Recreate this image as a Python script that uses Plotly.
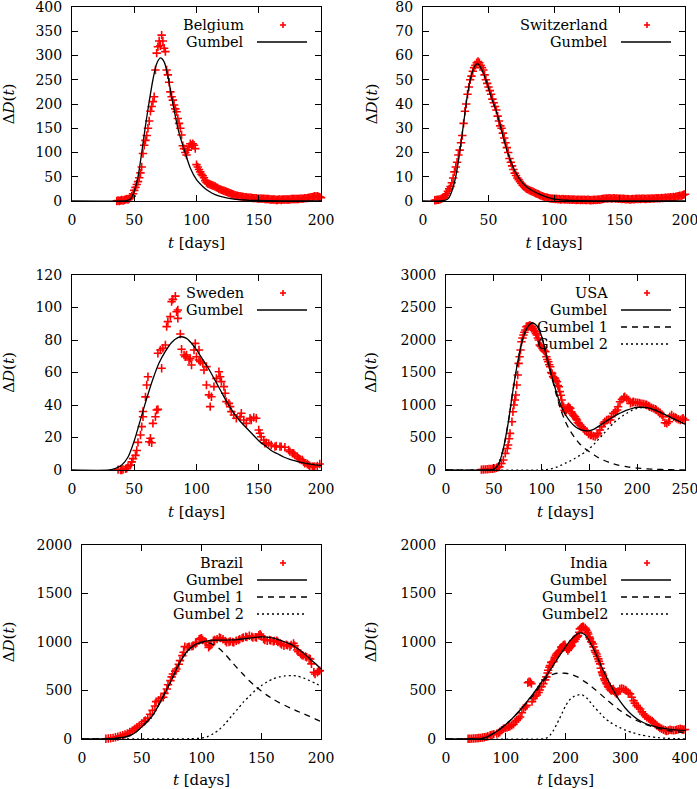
import plotly.graph_objects as go

W, H = 697, 789
FONT = "DejaVu Serif"

# ---------------- Belgium ----------------
bel_days = list(range(36, 201))
bel_deaths = [
    0, 1, 0, 1, 2, 1, 2, 3, 4,
    3, 5, 7, 10, 15, 22, 28, 34,
    40, 48, 58, 70, 98, 115, 125, 135,
    150, 165, 185, 195, 205,
    215, 270, 305, 318, 330, 320, 342,
    330, 315, 308, 270, 260, 245, 225, 215,
    208, 198, 190, 184, 170, 160, 150, 136, 114, 108, 100, 95,
    105, 112, 118, 115, 118, 115, 108,
    75, 70, 65, 60, 55, 52, 48, 42, 38, 36, 35,
    34, 33, 32, 31, 30, 28, 27, 25, 24, 23,
    22, 21, 20, 19, 18, 17, 16, 15, 14, 13,
    12, 11, 11, 10, 10, 9, 9, 8, 8, 8,
    7, 7, 7, 7, 6, 6, 6, 6, 5, 5,
    5, 5, 5, 5, 4, 4, 4, 4, 3, 3,
    3, 3, 3, 2, 2, 3, 3, 2, 3, 3,
    3, 3, 3, 3, 3, 4, 4, 4, 4, 4,
    4, 4, 5, 5, 5, 5, 6, 6, 6, 7,
    7, 8, 8, 9, 10, 9, 10, 9, 8, 7,
]
bel_fit_days = [0, 40, 44, 47, 50, 53, 56, 59, 62, 65, 68, 71, 74, 77, 80, 83, 86, 90,
                95, 100, 105, 110, 115, 120, 130, 140, 150, 160, 170, 200]
bel_fit = [0, 0, 1, 4, 20, 50, 100, 155, 205, 250, 283, 295, 287, 258, 215, 175, 140, 107,
           68, 44, 30, 20, 13, 9, 4, 2, 1, 0.5, 0.2, 0]

# ---------------- Switzerland ----------------
swi_days = list(range(9, 201))
swi_deaths = [
    0.3, 0.4, 0.5, 0.5, 0.7, 0.9, 1.2, 1.6, 2.2, 3.0, 4.0,
    5, 6, 7.5, 9.5, 12, 14, 16, 19, 21, 24,
    27, 32, 37, 40, 44, 47, 50, 51.5, 53.5, 55,
    56, 57, 57.5, 57, 56, 55, 54, 52,
    50, 48.5, 47, 45.5, 44, 42, 40.5, 39, 37.5, 35,
    33, 31, 30, 28, 26, 24, 22, 20, 17.5, 16,
    14.5, 13, 11.5, 10.5, 9.5, 8.8, 8, 7.2, 6.5, 6,
    5.5, 5, 4.8, 4.5, 4.2, 4, 3.8, 3.5, 3.2, 3,
    2.8, 2.5, 2.2, 2, 1.8, 1.6, 1.5, 1.4, 1.2, 1.1, 1.0, 1.0,
    0.9, 0.8, 0.9, 0.7, 0.8, 0.6, 0.7, 0.8, 0.6, 0.7,
    0.6, 0.7, 0.5, 0.6, 0.5, 0.6, 0.5, 0.4, 0.5, 0.5,
    0.4, 0.5, 0.4, 0.5, 0.4, 0.4, 0.5, 0.4, 0.3, 0.4,
    0.4, 0.5, 0.4, 0.5, 0.6, 0.5, 0.7, 0.8, 0.9, 1.0,
    1.1, 1.0, 1.2, 1.1, 1.0, 1.1, 1.2, 1.0, 1.1, 0.9,
    1.0, 0.9, 0.8, 0.9, 0.8, 0.7, 0.8, 0.7, 0.6, 0.7,
    0.8, 0.7, 0.8, 0.9, 0.8, 0.9, 0.8, 0.9, 1.0, 0.9,
    0.8, 0.9, 1.0, 0.9, 1.0, 1.1, 1.0, 1.1, 1.2, 1.1,
    1.2, 1.1, 1.3, 1.2, 1.3, 1.4, 1.3, 1.5, 1.4, 1.6,
    1.5, 1.7, 1.6, 1.8, 1.9, 2.0, 2.2, 2.1, 2.4, 2.6,
    2.8,
]
swi_fit_days = [0, 12, 15, 18, 20, 22, 25, 28, 31, 34, 37, 40, 42, 45, 48, 52, 56, 60, 64,
                68, 72, 76, 80, 85, 90, 95, 100, 110, 120, 140, 200]
swi_fit = [0, 0, 0.1, 0.5, 1.5, 4, 10, 20, 32, 44, 52, 56, 56.5, 54, 50, 43, 37, 29, 21,
           15, 10.5, 7.5, 5.5, 3.8, 2.5, 1.5, 0.8, 0.3, 0.1, 0, 0]

# ---------------- Sweden ----------------
swe_days = [37, 39, 40, 41, 43, 44, 45, 47, 48, 49, 51, 52, 53, 55, 56, 57, 57, 59, 60, 61,
            62, 63, 64, 65, 67, 68, 69, 69, 71, 72, 73, 75, 76, 77, 79, 80, 81, 83, 84, 85,
            85, 87, 88, 90, 91, 92, 94, 95, 96, 98, 99, 100, 102, 102, 103, 105, 106, 108,
            108, 110, 111, 112, 114, 116, 118, 119, 120, 122, 123, 124, 126, 127, 128, 130,
            132, 135, 136, 138, 140, 143, 144, 146, 148, 150, 151, 152, 154, 155, 156, 158,
            160, 163, 164, 167, 168, 171, 174, 175, 177, 178, 179, 181, 182, 183, 185, 186,
            187, 189, 190, 191, 193, 194, 195, 197, 199]
swe_deaths = [0.2, 0, 0, 0.4, 0.8, 1, 2, 3, 5, 7, 9, 12, 17, 21.5, 26.7, 32.8, 36, 45, 52.3,
              57.4, 17.4, 19.5, 16.8, 28.7, 32.8, 36.9, 37.3, 71.8, 73.8, 62.6, 74.9, 76.9,
              88.2, 91.3, 94.4, 103.6, 105, 107, 97.4, 93.3, 98.5, 83.7, 74.3, 70.8, 69.7,
              70.8, 67.7, 68.7, 64.6, 73.8, 77.9, 69.7, 73.8, 67.7, 66.7, 65.6, 61.5, 63.6,
              52.3, 46.2, 39, 45.1, 51.3, 56.4, 60.5, 57.4, 54.4, 51.3, 47.2, 42.1, 41, 39,
              35.9, 33.8, 31.8, 32.8, 34.9, 30.8, 28.7, 31.8, 30.8, 32.4, 31.8, 24.6, 22.6,
              20.5, 18.5, 16.4, 16.8, 16.4, 15.4, 14.4, 14.8, 14.4, 14.4, 14, 12.3, 11.3,
              10.3, 10.3, 9.2, 8.2, 7.2, 6.6, 6.2, 5.1, 4.1, 3.7, 3.1, 2.5, 2, 2, 2, 2.5, 3.7]
swe_fit_days = [0, 30, 35, 40, 45, 50, 55, 60, 65, 70, 75, 80, 85, 88, 92, 96, 100, 105, 110,
                115, 120, 125, 130, 135, 140, 145, 150, 155, 160, 165, 170, 175, 180, 185,
                190, 195, 200]
swe_fit = [0, 0, 1, 3, 8, 18, 31, 44, 56, 66, 73, 78.5, 81.5, 82, 81, 78, 74, 68, 62,
           55, 48, 41, 35, 30, 26, 22, 18, 15, 12, 10, 8, 6.5, 5.5, 4.5, 3.8, 3.2, 2.8]

# ---------------- USA ----------------
usa_days = [37, 39, 41, 43, 45, 47, 49, 51, 53, 55, 56, 58, 60, 62, 64, 65, 66, 67, 69, 70,
            71, 72, 73, 74, 75, 76, 77, 78, 79, 80, 81, 82, 83, 84, 85, 86, 87, 88, 89, 90,
            91, 92, 93, 94, 95, 96, 97, 98, 99, 100, 101, 102, 103, 104, 105, 106, 107, 108,
            109, 110, 111, 112, 113, 114, 115, 116, 117, 118, 119, 120, 121, 122, 123, 124,
            125, 126, 127, 128, 129, 130, 131, 132, 133, 134, 135, 136, 137, 138, 139, 140,
            142, 144, 145, 147, 149, 151, 152, 154, 156, 158, 159, 161, 163, 165, 166, 168,
            170, 172, 173, 175, 177, 179, 180, 182, 184, 186, 187, 189, 191, 193, 195, 196,
            198, 200, 202, 203, 205, 207, 209, 210, 212, 213, 215, 217, 219, 220, 222, 224,
            226, 227, 229, 231, 233, 234, 236, 238, 240, 241, 243, 245, 247, 248, 250]
usa_deaths = [5, 8, 10, 12, 15, 18, 20, 25, 35, 45, 51, 100, 154, 256, 330, 384, 480, 564,
              743, 897, 1000, 1077, 1154, 1307, 1461, 1640, 1743, 1846, 1974, 2030, 2076,
              2120, 2153, 2204, 2210, 2214, 2220, 2224, 2210, 2204, 2179, 2150, 2128, 2100,
              2076, 2030, 2000, 1922, 1910, 1897, 1870, 1846, 1830, 1820, 1743, 1700, 1666,
              1620, 1589, 1500, 1487, 1436, 1420, 1410, 1380, 1358, 1300, 1281, 1205, 1150,
              1077, 1000, 974, 920, 897, 923, 950, 974, 960, 948, 897, 870, 846, 830, 820,
              790, 769, 730, 718, 692, 666, 641, 615, 590, 554, 538, 538, 523, 513, 538, 564,
              615, 666, 718, 743, 769, 779, 769, 820, 871, 897, 923, 974, 1051, 1087, 1118,
              1128, 1102, 1077, 1025, 1040, 1051, 1040, 1036, 1030, 1025, 1020, 1015, 1005,
              1000, 985, 974, 960, 948, 935, 923, 900, 882, 850, 820, 728, 718, 743, 820,
              846, 820, 810, 795, 780, 769, 785, 795, 769]
usa_fit_days = [0, 45, 50, 55, 60, 65, 70, 75, 80, 85, 90, 95, 100, 105, 110, 115, 120, 125,
                130, 135, 140, 145, 150, 155, 160, 165, 170, 175, 180, 185, 190, 195, 200,
                205, 210, 215, 220, 225, 230, 235, 240, 245, 250]
usa_fit = [0, 0, 10, 90, 330, 720, 1220, 1660, 2000, 2190, 2262, 2220, 2060, 1760, 1480,
           1220, 1000, 850, 745, 670, 625, 607, 605, 630, 675, 725, 775, 820, 860, 895, 925,
           948, 962, 965, 960, 940, 912, 880, 845, 810, 775, 740, 705]
usa_g1_days = [0, 45, 50, 55, 60, 65, 70, 75, 80, 85, 90, 95, 100, 105, 110, 115, 120, 125,
               130, 135, 140, 145, 150, 155, 160, 165, 170, 175, 180, 190, 200, 210, 220,
               230, 240, 250]
usa_g1 = [0, 0, 10, 90, 330, 720, 1220, 1660, 2000, 2190, 2262, 2220, 2060, 1755, 1465,
          1180, 930, 740, 600, 490, 400, 335, 280, 230, 185, 150, 120, 95, 75, 48, 30, 18,
          11, 6, 3, 2]
usa_g2_days = [0, 100, 105, 110, 115, 120, 125, 130, 135, 140, 145, 150, 155, 160, 165, 170,
               175, 180, 185, 190, 195, 200, 205, 210, 215, 220, 225, 230, 235, 240, 245, 250]
usa_g2 = [0, 0, 5, 18, 40, 70, 105, 140, 180, 225, 270, 330, 400, 480, 560, 640, 718, 780,
          835, 880, 920, 948, 960, 960, 945, 920, 885, 850, 815, 775, 740, 705]

# ---------------- Brazil ----------------
bra_days = [20, 22, 24, 26, 28, 30, 32, 34, 36, 38, 40, 42, 44, 46, 48, 50, 52, 53, 55, 57,
            59, 61, 62, 64, 66, 68, 69, 71, 72, 74, 75, 76, 78, 79, 81, 82, 84, 85, 86, 88,
            89, 90, 92, 93, 95, 96, 98, 99, 100, 101, 103, 104, 106, 107, 108, 110, 111, 113,
            115, 116, 118, 120, 121, 123, 124, 126, 127, 129, 131, 132, 134, 135, 137, 138,
            140, 142, 143, 145, 146, 148, 149, 150, 152, 153, 155, 157, 158, 160, 161, 163,
            164, 166, 167, 169, 171, 172, 174, 175, 177, 178, 180, 181, 183, 184, 185, 187,
            188, 190, 191, 192, 194, 195, 197, 198, 199]
bra_deaths = [3, 5, 8, 12, 18, 25, 32, 40, 48, 58, 72, 86, 104, 122, 140, 160, 180, 192, 215,
              255, 295, 340, 385, 400, 420, 430, 470, 515, 560, 602, 640, 670, 700, 722, 770,
              808, 860, 894, 952, 945, 950, 952, 955, 962, 980, 996, 1030, 1035, 1040, 1020,
              1000, 996, 945, 962, 972, 1013, 1020, 1030, 1047, 1040, 1030, 1010, 996, 1000,
              1006, 1000, 996, 1013, 1020, 1030, 1040, 1047, 1054, 1050, 1064, 1055, 1047,
              1050, 1047, 1070, 1081, 1064, 1030, 1020, 1013, 1020, 1015, 1006, 1010, 1013,
              1000, 986, 975, 962, 972, 965, 952, 970, 986, 962, 918, 900, 877, 865, 860, 850,
              843, 830, 825, 774, 688, 670, 688, 700, 705]
bra_fit_days = [0, 15, 20, 25, 30, 35, 40, 45, 50, 55, 60, 65, 70, 75, 80, 85, 90, 95, 100,
                105, 110, 115, 120, 125, 130, 135, 140, 145, 150, 155, 160, 165, 170, 175,
                180, 185, 190, 195, 200]
bra_fit = [0, 0, 1, 4, 10, 18, 35, 70, 125, 185, 260, 370, 490, 610, 745, 855, 930, 975,
           1000, 1012, 1018, 1020, 1020, 1021, 1025, 1032, 1040, 1048, 1052, 1050, 1040, 1022,
           1000, 975, 935, 890, 835, 780, 720]
bra_g1_days = [0, 15, 20, 25, 30, 35, 40, 45, 50, 55, 60, 65, 70, 75, 80, 85, 90, 95, 100,
               105, 110, 115, 120, 125, 130, 135, 140, 145, 150, 155, 160, 165, 170, 175, 180,
               185, 190, 195, 200]
bra_g1 = [0, 0, 1, 4, 10, 18, 35, 70, 125, 185, 260, 370, 490, 610, 745, 855, 928, 972, 992,
          993, 972, 930, 870, 800, 730, 665, 600, 545, 495, 450, 410, 375, 345, 315, 288,
          262, 236, 208, 180]
bra_g2_days = [0, 70, 80, 90, 100, 105, 110, 115, 120, 125, 130, 135, 140, 145, 150, 155, 160,
               165, 170, 175, 180, 185, 190, 195, 200]
bra_g2 = [0, 0, 1, 3, 10, 25, 55, 100, 160, 235, 305, 380, 440, 500, 550, 590, 620, 640, 650,
          654, 648, 630, 605, 575, 545]

# ---------------- India ----------------
ind_days = [37, 40, 43, 46, 49, 52, 55, 58, 61, 64, 67, 70, 74, 77, 80, 85, 88, 90, 93, 96,
            99, 102, 105, 107, 110, 113, 116, 118, 121, 124, 127, 130, 133, 135, 137, 139, 141,
            143, 144, 146, 149, 152, 155, 157, 160, 163, 166, 168, 170, 171, 173, 174, 176,
            178, 180, 182, 184, 185, 187, 188, 190, 191, 193, 194, 196, 197, 199, 200, 202,
            204, 206, 207, 209, 210, 212, 213, 215, 217, 219, 220, 221, 223, 224, 226, 227,
            229, 230, 233, 234, 235, 237, 238, 240, 241, 243, 244, 246, 247, 249, 250, 252,
            253, 255, 256, 258, 259, 261, 262, 263, 265, 266, 268, 269, 271, 272, 274, 276,
            277, 279, 280, 282, 283, 285, 286, 288, 291, 294, 297, 300, 302, 305, 308, 311,
            314, 316, 319, 322, 325, 328, 330, 333, 336, 339, 342, 345, 347, 350, 353, 356,
            358, 361, 364, 367, 369, 372, 375, 378, 381, 384, 386, 389, 392, 395, 397, 400]
ind_deaths = [2, 3, 4, 5, 6, 8, 10, 12, 15, 18, 22, 28, 38, 45, 50, 55, 62, 72, 90, 107, 112,
              117, 125, 131, 140, 151, 175, 193, 210, 227, 270, 313, 330, 347, 580, 590, 588,
              571, 385, 419, 440, 454, 480, 505, 540, 571, 610, 640, 680, 709, 740, 758, 790,
              794, 800, 842, 860, 877, 885, 894, 905, 912, 946, 950, 963, 970, 973, 950, 929,
              912, 930, 946, 955, 963, 1000, 1015, 1006, 1030, 1049, 1060, 1066, 1100, 1135,
              1145, 1152, 1159, 1155, 1145, 1130, 1118, 1100, 1083, 1050, 1032, 1005, 998, 980,
              950, 912, 895, 877, 850, 826, 800, 774, 730, 689, 670, 653, 620, 602, 580, 568,
              545, 533, 516, 505, 499, 510, 516, 495, 482, 470, 465, 490, 516, 520, 516, 505,
              499, 480, 465, 430, 396, 370, 344, 325, 310, 280, 258, 240, 224, 210, 197, 185,
              172, 155, 138, 125, 114, 105, 96, 90, 83, 88, 96, 92, 89, 92, 96, 100, 107, 100,
              96, 98]
ind_fit_days = [0, 40, 50, 60, 70, 80, 90, 100, 110, 120, 130, 140, 150, 160, 170, 180, 190,
                200, 210, 220, 225, 230, 235, 240, 250, 260, 270, 280, 290, 300, 310, 320, 330,
                340, 350, 360, 370, 380, 390, 400]
ind_fit = [0, 0, 1, 5, 25, 60, 100, 150, 205, 270, 340, 420, 500, 590, 670, 765, 860, 950,
           1030, 1085, 1095, 1085, 1060, 1010, 890, 750, 620, 505, 400, 320, 255, 205, 170,
           145, 128, 115, 105, 97, 92, 88]
ind_g1_days = [0, 40, 50, 60, 70, 80, 90, 100, 110, 120, 130, 140, 150, 160, 170, 180, 190,
               200, 210, 220, 230, 240, 250, 260, 270, 280, 290, 300, 310, 320, 330, 340, 350,
               360, 370, 380, 390, 400]
ind_g1 = [0, 0, 1, 5, 25, 60, 100, 150, 205, 270, 340, 410, 480, 575, 640, 670, 680, 678, 665,
          640, 600, 558, 508, 455, 400, 348, 300, 258, 220, 188, 160, 137, 118, 102, 90, 80,
          72, 66]
ind_g2_days = [0, 160, 165, 170, 175, 180, 185, 190, 195, 200, 205, 210, 215, 220, 227, 235,
               240, 247, 258, 265, 275, 285, 291, 300, 313, 325, 341, 355, 370, 385, 400]
ind_g2 = [0, 0, 3, 15, 45, 90, 150, 210, 275, 340, 390, 422, 442, 453, 458, 425, 392, 338,
          265, 220, 172, 135, 118, 92, 64, 44, 25, 14, 7, 3, 1]

# ---------------- panels ----------------
# box = plot area in pixels (left, top, right, bottom); ystand = y title gap
panels = [
    dict(label="Belgium", days=bel_days, deaths=bel_deaths,
         fits=[(bel_fit_days, bel_fit, "Gumbel", "solid")],
         xrange=[0, 200], xdtick=50, yrange=[0, 400], ydtick=50,
         box=(72, 7, 321, 201), ystand=17),
    dict(label="Switzerland", days=swi_days, deaths=swi_deaths,
         fits=[(swi_fit_days, swi_fit, "Gumbel", "solid")],
         xrange=[0, 200], xdtick=50, yrange=[0, 80], ydtick=10,
         box=(423, 7, 685, 201), ystand=14),
    dict(label="Sweden", days=swe_days, deaths=swe_deaths,
         fits=[(swe_fit_days, swe_fit, "Gumbel", "solid")],
         xrange=[0, 200], xdtick=50, yrange=[0, 120], ydtick=20,
         box=(72, 275, 321, 470), ystand=17),
    dict(label="USA", days=usa_days, deaths=usa_deaths,
         fits=[(usa_fit_days, usa_fit, "Gumbel", "solid"),
               (usa_g1_days, usa_g1, "Gumbel 1", "dash"),
               (usa_g2_days, usa_g2, "Gumbel 2", "dot")],
         xrange=[0, 250], xdtick=50, yrange=[0, 3000], ydtick=500,
         box=(446, 275, 685, 470), ystand=20),
    dict(label="Brazil", days=bra_days, deaths=bra_deaths,
         fits=[(bra_fit_days, bra_fit, "Gumbel", "solid"),
               (bra_g1_days, bra_g1, "Gumbel 1", "dash"),
               (bra_g2_days, bra_g2, "Gumbel 2", "dot")],
         xrange=[0, 200], xdtick=50, yrange=[0, 2000], ydtick=500,
         box=(82, 545, 321, 739), ystand=18),
    dict(label="India", days=ind_days, deaths=ind_deaths,
         fits=[(ind_fit_days, ind_fit, "Gumbel", "solid"),
               (ind_g1_days, ind_g1, "Gumbel1", "dash"),
               (ind_g2_days, ind_g2, "Gumbel2", "dot")],
         xrange=[0, 400], xdtick=100, yrange=[0, 2000], ydtick=500,
         box=(446, 545, 685, 739), ystand=20),
]

DASHES = {"solid": "solid", "dash": "6px,5px", "dot": "2px,3px"}

fig = go.Figure()
layout = {}
annotations = []
shapes = []

for i, p in enumerate(panels, start=1):
    xa, ya = f"x{i}", f"y{i}"
    l, t, r, b = p["box"]

    fig.add_trace(go.Scatter(
        x=p["days"], y=p["deaths"], mode="markers", xaxis=xa, yaxis=ya,
        marker=dict(symbol="cross-thin", size=6, color="red", line=dict(width=1.6, color="red")),
        cliponaxis=False, showlegend=False))
    for fx, fy, name, style in p["fits"]:
        fig.add_trace(go.Scatter(
            x=fx, y=fy, mode="lines", xaxis=xa, yaxis=ya, showlegend=False,
            line=dict(color="black", width=1.3, dash=DASHES[style], shape="spline", smoothing=0.8)))

    common = dict(showgrid=False, zeroline=False, showline=True, linecolor="black", linewidth=1,
                  mirror="ticks", ticks="inside", ticklen=6, tickwidth=1, tickcolor="black",
                  tickfont=dict(family=FONT, size=14, color="black"), ticklabelstandoff=6,
                  ticklabeloverflow="allow", automargin=False)
    layout["xaxis" if i == 1 else f"xaxis{i}"] = dict(
        common, anchor=ya, domain=[l / W, r / W], range=p["xrange"], dtick=p["xdtick"],
        title=dict(text="<i>t</i> [days]", font=dict(family=FONT, size=15, color="black"),
                   standoff=10))
    layout["yaxis" if i == 1 else f"yaxis{i}"] = dict(
        common, anchor=xa, domain=[1 - b / H, 1 - t / H], range=p["yrange"], dtick=p["ydtick"],
        title=dict(text="Δ<i>D</i>(<i>t</i>)", font=dict(family=FONT, size=15, color="black"),
                   standoff=p["ystand"]))

    # gnuplot-style key: text right-aligned, sample to its right
    rows = [(p["label"], "points")] + [(f[2], f[3]) for f in p["fits"]]
    for k, (txt, style) in enumerate(rows):
        yy = 1 - (t + 18 + 17 * k) / H
        annotations.append(dict(
            text=txt, xref="paper", yref="paper", x=(r - 76) / W, y=yy,
            xanchor="right", yanchor="middle", showarrow=False, borderpad=0,
            font=dict(family=FONT, size=14.5, color="black")))
        if style == "points":
            cx = (r - 38) / W
            shapes.append(dict(type="line", xref="paper", yref="paper",
                               x0=cx - 3 / W, x1=cx + 3 / W, y0=yy, y1=yy,
                               line=dict(color="red", width=1.6)))
            shapes.append(dict(type="line", xref="paper", yref="paper",
                               x0=cx, x1=cx, y0=yy - 3 / H, y1=yy + 3 / H,
                               line=dict(color="red", width=1.6)))
        else:
            shapes.append(dict(type="line", xref="paper", yref="paper",
                               x0=(r - 64) / W, x1=(r - 14) / W, y0=yy, y1=yy,
                               line=dict(color="black", width=1.3, dash=DASHES[style])))

fig.update_layout(
    width=W, height=H, margin=dict(l=0, r=0, t=0, b=0),
    paper_bgcolor="white", plot_bgcolor="white",
    annotations=annotations, shapes=shapes, **layout)

# the page's default body margin would push the 697x789 figure off-screen
fig.write_html("out.html", config={"displayModeBar": False},
               post_script="document.body.style.margin = '0';")
